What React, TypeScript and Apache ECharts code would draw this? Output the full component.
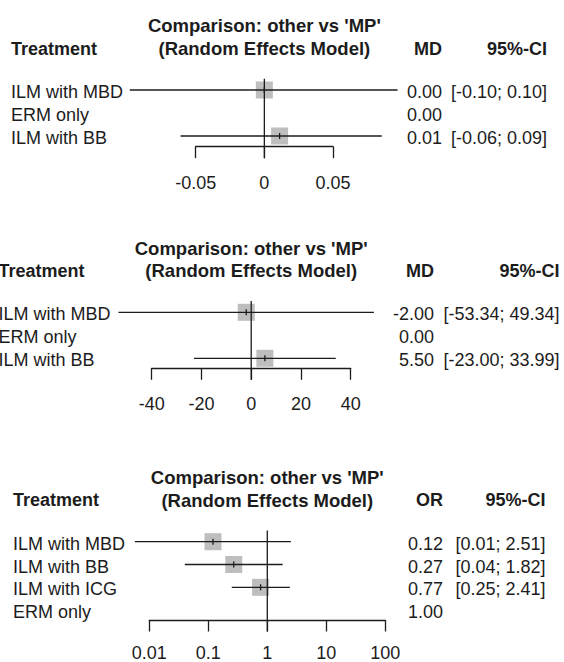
import React, { useEffect, useRef } from "react";
import * as echarts from "echarts";

// ---------- data ----------
const titleLines = ["Comparison: other vs 'MP'", "(Random Effects Model)"];
const headerTreatment = "Treatment";
const headerCI = "95%-CI";

const measure1 = "MD";
const treatments1 = ["ILM with MBD", "ERM only", "ILM with BB"];
const est1 = [0.0, 0.0, 0.0111];
const lower1: (number | null)[] = [-0.098, null, -0.061];
const upper1: (number | null)[] = [0.097, null, 0.0855];
const ticks1 = [-0.05, 0, 0.05];

const measure2 = "MD";
const treatments2 = ["ILM with MBD", "ERM only", "ILM with BB"];
const est2 = [-2.0, 0.0, 5.5];
const lower2: (number | null)[] = [-53.34, null, -23.0];
const upper2: (number | null)[] = [49.34, null, 33.99];
const ticks2 = [-40, -20, 0, 20, 40];

const measure3 = "OR";
const treatments3 = ["ILM with MBD", "ILM with BB", "ILM with ICG", "ERM only"];
const est3 = [0.12, 0.27, 0.77, 1.0];
const lower3: (number | null)[] = [0.0057, 0.04, 0.25, null];
const upper3: (number | null)[] = [2.51, 1.82, 2.41, null];
const ticks3 = [0.01, 0.1, 1, 10, 100];

// ---------- styling / layout ----------
const INK = "#1c1c1c";
const SQUARE = "#bebebe";
const FONT = '"Liberation Sans", Arial, Helvetica, sans-serif';
const FS = 18;
const TITLE_FS = 18.5;
const TICK_LEN = 11.5;
const SQ = 17;

type Panel = {
  names: string[];
  est: number[];
  lo: (number | null)[];
  hi: (number | null)[];
  ticks: number[];
  log: boolean;
  ref: number;
  measure: string;
  left: number;
  right: number;
  row0: number;
  step: number;
  axisY: number;
  labelMargin: number;
  labelX: number;
  valueRight: number;
  ciRight: number;
};

const panels: Panel[] = [
  {
    names: treatments1, est: est1, lo: lower1, hi: upper1, ticks: ticks1,
    log: false, ref: 0, measure: measure1,
    left: 195.7, right: 333, row0: 90, step: 23, axisY: 146.7, labelMargin: 36,
    labelX: 11, valueRight: 442, ciRight: 547,
  },
  {
    names: treatments2, est: est2, lo: lower2, hi: upper2, ticks: ticks2,
    log: false, ref: 0, measure: measure2,
    left: 151.7, right: 350.7, row0: 312.3, step: 23, axisY: 368.3, labelMargin: 36,
    labelX: -1.5, valueRight: 434, ciRight: 559.5,
  },
  {
    names: treatments3, est: est3, lo: lower3, hi: upper3, ticks: ticks3,
    log: true, ref: 1, measure: measure3,
    left: 149.3, right: 385.3, row0: 541.7, step: 22.8, axisY: 620, labelMargin: 32.5,
    labelX: 13, valueRight: 443, ciRight: 545.5,
  },
];

function fmtTick(v: number) {
  return String(+Number(v).toPrecision(6));
}

function buildOption() {
  const grid: any[] = [];
  const xAxis: any[] = [];
  const yAxis: any[] = [];
  const series: any[] = [];
  const graphic: any[] = [];

  panels.forEach((p, k) => {
    const yMax = (p.axisY - p.row0) / p.step;
    grid.push({
      left: p.left,
      top: p.row0,
      width: p.right - p.left,
      height: p.axisY - p.row0,
      containLabel: false,
      outerBoundsMode: "none",
    });
    const xa: any = {
      gridIndex: k,
      type: p.log ? "log" : "value",
      min: p.ticks[0],
      max: p.ticks[p.ticks.length - 1],
      axisLine: { show: true, onZero: false, lineStyle: { color: INK, width: 1.3 } },
      axisTick: { show: true, inside: false, length: TICK_LEN, lineStyle: { color: INK, width: 1.3 } },
      axisLabel: {
        show: true,
        color: INK,
        fontSize: FS,
        fontFamily: FONT,
        margin: p.labelMargin,
        verticalAlign: "middle",
        showMinLabel: true,
        showMaxLabel: true,
        formatter: (v: number) => fmtTick(v),
      },
      splitLine: { show: false },
    };
    if (p.log) {
      xa.logBase = 10;
      xa.splitNumber = 4;
    } else {
      xa.interval = p.ticks[1] - p.ticks[0];
    }
    xAxis.push(xa);
    yAxis.push({ gridIndex: k, type: "value", inverse: true, min: 0, max: yMax, show: false });

    // forest rows
    series.push({
      type: "custom",
      xAxisIndex: k,
      yAxisIndex: k,
      clip: false,
      z: 2,
      data: p.est.map((v, i) => [v, i]),
      encode: { x: 0, y: 1 },
      renderItem: (params: any, api: any) => {
        const i = params.dataIndex;
        const c = api.coord([p.est[i], i]);
        const y = c[1];
        const children: any[] = [];
        const lo = p.lo[i];
        const hi = p.hi[i];
        if (lo != null && hi != null) {
          const a = api.coord([lo, i]);
          const b = api.coord([hi, i]);
          children.push({
            type: "rect",
            shape: { x: c[0] - SQ / 2, y: y - SQ / 2, width: SQ, height: SQ },
            style: { fill: SQUARE },
          });
          children.push({
            type: "line",
            shape: { x1: a[0], y1: y, x2: b[0], y2: y },
            style: { stroke: INK, lineWidth: 1.3 },
          });
          children.push({
            type: "line",
            shape: { x1: c[0], y1: y - 3, x2: c[0], y2: y + 3 },
            style: { stroke: INK, lineWidth: 1.3 },
          });
          children.push({
            type: "text",
            x: p.ciRight,
            y: y + 2,
            style: {
              text: `[${lo.toFixed(2)}; ${hi.toFixed(2)}]`,
              font: `${FS}px ${FONT}`,
              fill: INK,
              align: "right",
              verticalAlign: "middle",
            },
          });
        }
        children.push({
          type: "text",
          x: p.labelX,
          y: y + 2,
          style: {
            text: p.names[i],
            font: `${FS}px ${FONT}`,
            fill: INK,
            align: "left",
            verticalAlign: "middle",
          },
        });
        children.push({
          type: "text",
          x: p.valueRight,
          y: y + 2,
          style: {
            text: p.est[i].toFixed(2),
            font: `${FS}px ${FONT}`,
            fill: INK,
            align: "right",
            verticalAlign: "middle",
          },
        });
        return { type: "group", children };
      },
    });

    // reference (no-effect) line
    series.push({
      type: "custom",
      xAxisIndex: k,
      yAxisIndex: k,
      clip: false,
      z: 3,
      data: [[p.ref, 0]],
      encode: { x: 0, y: 1 },
      renderItem: (params: any, api: any) => {
        const top = api.coord([p.ref, -0.49]);
        const bottom = api.coord([p.ref, yMax]);
        return {
          type: "line",
          shape: { x1: top[0], y1: top[1], x2: bottom[0], y2: bottom[1] + TICK_LEN },
          style: { stroke: INK, lineWidth: 1.3 },
        };
      },
    });

    // titles and headers
    const cx = (p.left + p.right) / 2;
    const boldFont = `bold ${FS}px ${FONT}`;
    const titleFont = `bold ${TITLE_FS}px ${FONT}`;
    graphic.push({
      type: "text", x: cx, y: p.row0 - 64.3,
      style: { text: titleLines[0], font: titleFont, fill: INK, align: "center", verticalAlign: "middle" },
    });
    graphic.push({
      type: "text", x: cx, y: p.row0 - 41.5,
      style: { text: titleLines[1], font: titleFont, fill: INK, align: "center", verticalAlign: "middle" },
    });
    graphic.push({
      type: "text", x: p.labelX, y: p.row0 - 41.5,
      style: { text: headerTreatment, font: boldFont, fill: INK, align: "left", verticalAlign: "middle" },
    });
    graphic.push({
      type: "text", x: p.valueRight, y: p.row0 - 41.5,
      style: { text: p.measure, font: boldFont, fill: INK, align: "right", verticalAlign: "middle" },
    });
    graphic.push({
      type: "text", x: p.ciRight, y: p.row0 - 41.5,
      style: { text: headerCI, font: boldFont, fill: INK, align: "right", verticalAlign: "middle" },
    });
  });

  return {
    animation: false,
    backgroundColor: "#ffffff",
    grid,
    xAxis,
    yAxis,
    series,
    graphic,
  };
}

export default function App() {
  const ref = useRef<HTMLDivElement>(null);
  useEffect(() => {
    if (!ref.current) return;
    const chart = echarts.init(ref.current, undefined, { renderer: "svg" });
    chart.setOption(buildOption() as any);
    return () => chart.dispose();
  }, []);
  return (
    <div
      ref={ref}
      style={{ position: "fixed", left: 0, top: 0, width: 564, height: 662, background: "#fff" }}
    />
  );
}
